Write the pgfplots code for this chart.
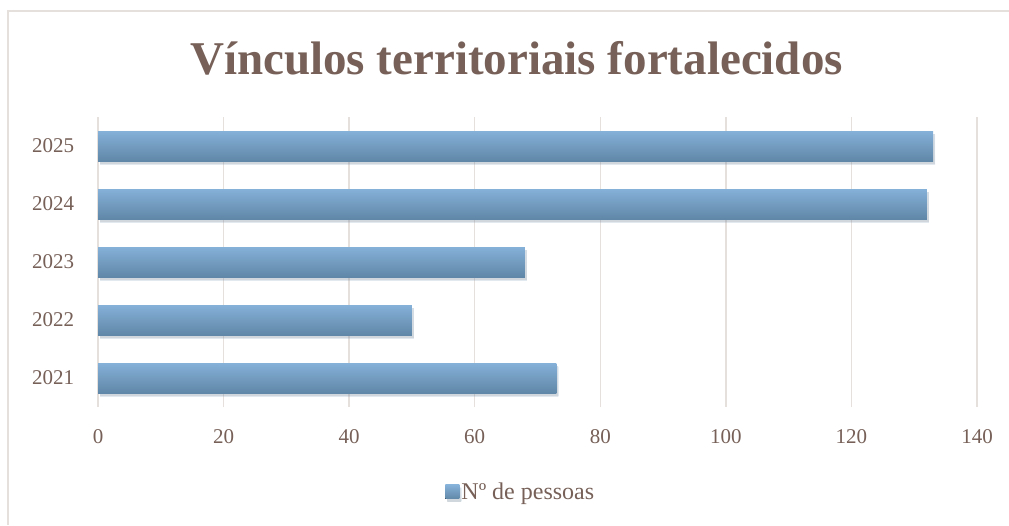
\documentclass[border=0pt]{standalone}
\usepackage{fontspec}
\setmainfont{Liberation Serif}
\usepackage{pgfplots}
\pgfplotsset{compat=1.18}
\usetikzlibrary{shadows}
\definecolor{txt}{RGB}{118,96,88}
\definecolor{gridc}{RGB}{230,224,221}
\definecolor{bartop}{RGB}{133,176,216}
\definecolor{barbot}{RGB}{96,135,167}

\begin{document}
\begin{tikzpicture}[x=1pt,y=1pt]
\useasboundingbox (0,0) rectangle (1009,525);
\draw[gridc, line width=1.2pt] (8,0) -- (8,514) -- (1009,514);
\node[txt, font=\fontsize{47}{52}\selectfont\bfseries, anchor=base, inner sep=0pt]
  at (516.5,450) {Vínculos territoriais fortalecidos};
\begin{axis}[
  at={(98pt,118pt)}, anchor=south west,
  scale only axis, width=879pt, height=290pt,
  xbar, bar width=30pt, bar shift=0pt,
  xmin=0, xmax=140, xtick={0,20,...,140},
  ymin=-0.5, ymax=4.5, ytick={0,...,4},
  yticklabels={2021,2022,2023,2024,2025},
  axis line style={draw=none}, tick style={draw=none},
  xmajorgrids, grid style={gridc, line width=1.5pt},
  /pgf/number format/assume math mode=true,
  ticklabel style={txt, font=\fontsize{21}{24}\selectfont},
  xticklabel style={yshift=-19pt},
  yticklabel style={xshift=-16pt},
  legend style={at={(0.481,-0.293)}, anchor=center, draw=none, fill=none,
    font=\fontsize{24}{28}\selectfont, text=txt,
    /tikz/every even column/.append style={column sep=2pt}},
  legend image code/.code={\fill[top color=bartop, bottom color=barbot] (0pt,-7pt) rectangle (14pt,7pt);},
  barstyle/.style={draw=none, top color=bartop, bottom color=barbot,
    drop shadow={opacity=0.18, shadow xshift=2pt, shadow yshift=-3pt}},
]
\addplot[barstyle] coordinates {(73,0)};
\addlegendentry{Nº de pessoas}
\addplot[barstyle, forget plot] coordinates {(50,1)};
\addplot[barstyle, forget plot] coordinates {(68,2)};
\addplot[barstyle, forget plot] coordinates {(132,3)};
\addplot[barstyle, forget plot] coordinates {(133,4)};
\end{axis}
\end{tikzpicture}
\end{document}
